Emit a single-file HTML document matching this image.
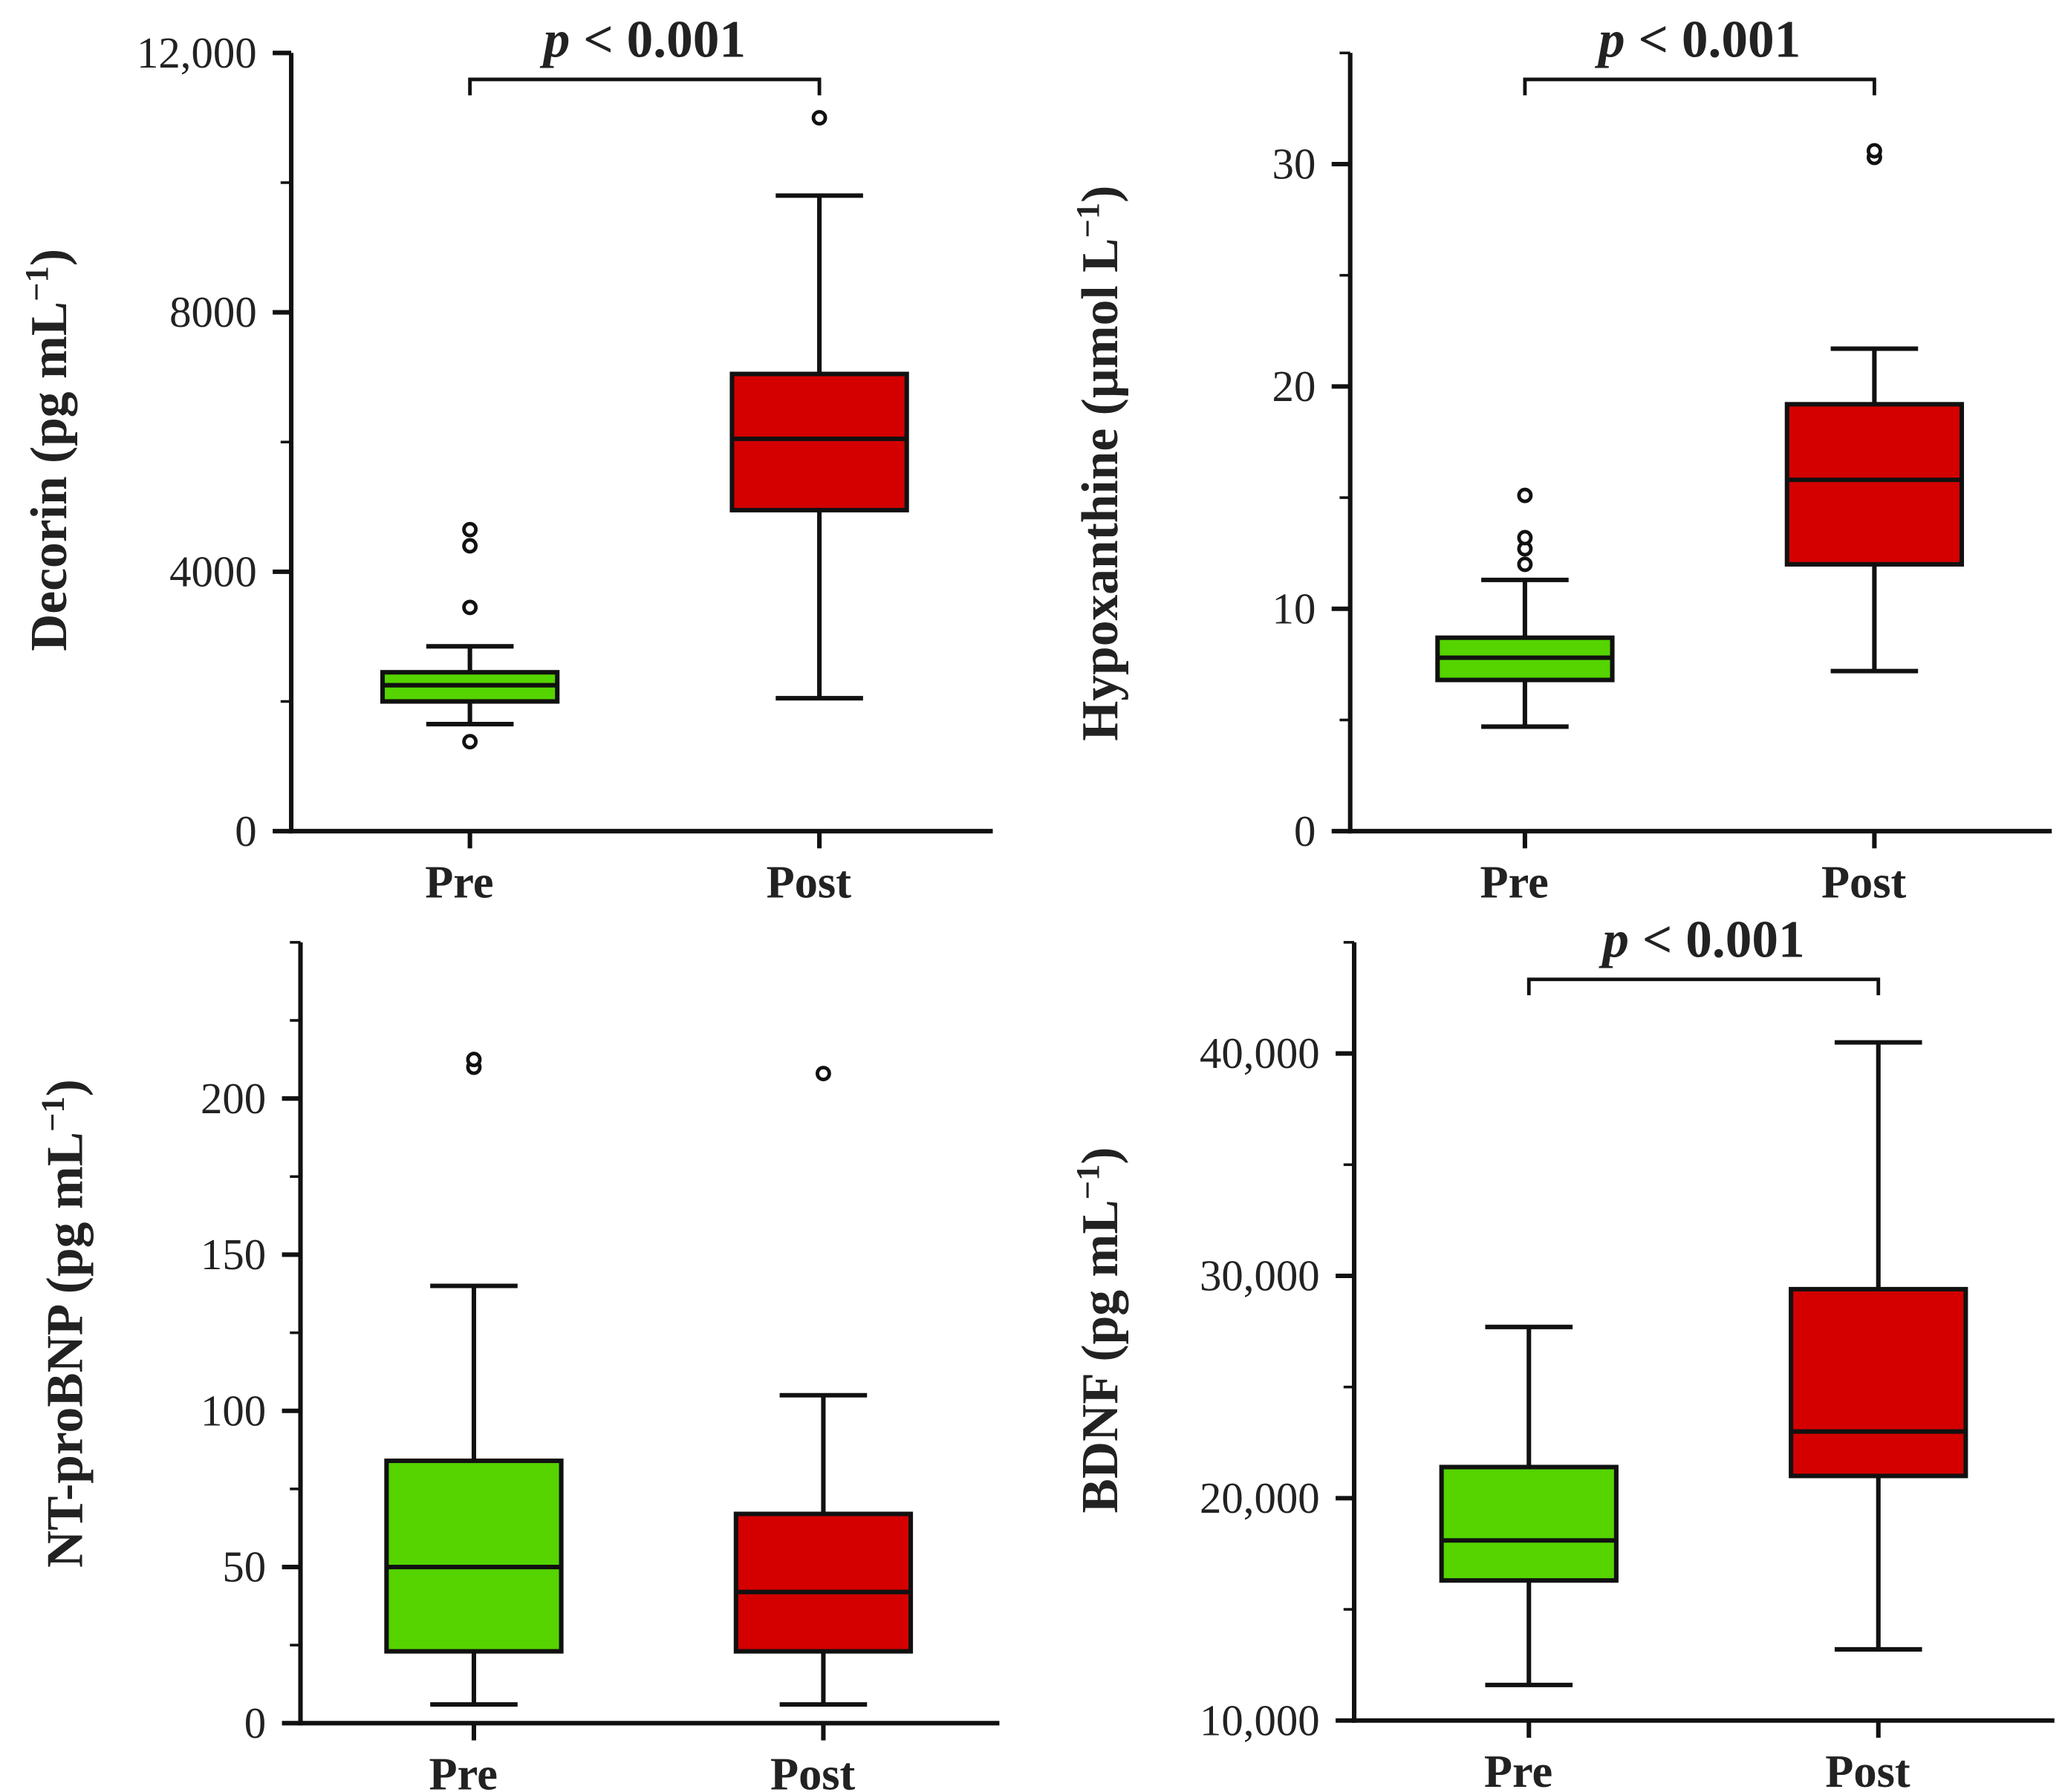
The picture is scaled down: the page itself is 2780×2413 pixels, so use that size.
<!DOCTYPE html>
<html><head><meta charset="utf-8">
<style>
html,body{margin:0;padding:0;background:#fff;}
svg{display:block;}
text{font-family:"Liberation Serif",serif;fill:#222;}
</style></head>
<body>
<svg id="chart" width="2780" height="2413" viewBox="0 0 1560 1354" preserveAspectRatio="none" xmlns="http://www.w3.org/2000/svg"></svg>
<script>
const groups = ["Pre","Post"];
// [whiskerLow, q1, median, q3, whiskerHigh]
const decorinStats = [[1650,2000,2250,2450,2850],[2050,4950,6050,7050,9800]];
const decorinOutliers = [[1380,3450,4400,4650],[11000]];
const hypoStats = [[4.7,6.8,7.8,8.7,11.3],[7.2,12.0,15.8,19.2,21.7]];
const hypoOutliers = [[12.0,12.7,13.2,15.1],[30.3,30.6]];
const bnpStats = [[6,23,50,84,140],[6,23,42,67,105]];
const bnpOutliers = [[210,212.5],[208]];
const bdnfStats = [[11600,16300,18100,21400,27700],[13200,21000,23000,29400,40500]];
const bdnfOutliers = [[],[]];
const decorinTicks = [0,4000,8000,12000];
const decorinTickLabels = ["0","4000","8000","12,000"];
const hypoTicks = [0,10,20,30];
const hypoTickLabels = ["0","10","20","30"];
const bnpTicks = [0,50,100,150,200];
const bnpTickLabels = ["0","50","100","150","200"];
const bdnfTicks = [10000,20000,30000,40000];
const bdnfTickLabels = ["10,000","20,000","30,000","40,000"];

const svg = document.getElementById('chart');
const NS = "http://www.w3.org/2000/svg";
function mk(tag, attrs, parent){
  const e = document.createElementNS(NS, tag);
  for (const k in attrs) e.setAttribute(k, attrs[k]);
  (parent||svg).appendChild(e);
  return e;
}
const colors = ["#55d400","#d40000"];

function panel(cfg){
  const g = mk('g',{});
  
  
  const y = v => cfg.y0 - (v - cfg.vmin) / (cfg.vmax - cfg.vmin) * (cfg.y0 - cfg.ytop);
  const sw = 3.4;
  const ya = mk('line',{x1:cfg.ax,y1:cfg.ytop,x2:cfg.ax,y2:cfg.y0+1.7,stroke:'#111','stroke-width':sw},g);
  
  
  const xa = mk('line',{x1:cfg.ax-1.7,y1:cfg.y0,x2:cfg.axEnd,y2:cfg.y0,stroke:'#111','stroke-width':sw},g);
  
  
  cfg.ticks.forEach((t,i)=>{
    mk('line',{x1:cfg.ax-14,y1:y(t),x2:cfg.ax,y2:y(t),stroke:'#111','stroke-width':sw},g);
    const tl = mk('text',{x:cfg.ax-26,y:y(t)+11,'text-anchor':'end','font-size':33},g);
    tl.textContent = cfg.tickLabels[i];
    
    
  });
  for (let v = cfg.vmin + cfg.minor; v <= cfg.vmax + 1e-9; v += cfg.minor){
    if (cfg.ticks.some(t=>Math.abs(t-v)<1e-6)) continue;
    mk('line',{x1:cfg.ax-8,y1:y(v),x2:cfg.ax,y2:y(v),stroke:'#111','stroke-width':2},g);
  }
  groups.forEach((name,i)=>{
    const cx = cfg.gx[i], hw = 66;
    const s = cfg.stats[i];
    mk('line',{x1:cx,y1:cfg.y0,x2:cx,y2:cfg.y0+13,stroke:'#111','stroke-width':sw},g);
    const xl = mk('text',{x:cx-8,y:cfg.y0+50,'text-anchor':'middle','font-size':35,'font-weight':'bold'},g);
    xl.textContent = name;
    
    
    const bg = mk('g',{},g);
    
    
    mk('line',{x1:cx,y1:y(s[0]),x2:cx,y2:y(s[1]),stroke:'#111','stroke-width':sw},bg);
    mk('line',{x1:cx,y1:y(s[3]),x2:cx,y2:y(s[4]),stroke:'#111','stroke-width':sw},bg);
    mk('line',{x1:cx-33,y1:y(s[0]),x2:cx+33,y2:y(s[0]),stroke:'#111','stroke-width':sw},bg);
    mk('line',{x1:cx-33,y1:y(s[4]),x2:cx+33,y2:y(s[4]),stroke:'#111','stroke-width':sw},bg);
    mk('rect',{x:cx-hw,y:y(s[3]),width:2*hw,height:y(s[1])-y(s[3]),fill:colors[i],stroke:'#111','stroke-width':sw},bg);
    mk('line',{x1:cx-hw,y1:y(s[2]),x2:cx+hw,y2:y(s[2]),stroke:'#111','stroke-width':sw},bg);
    cfg.outliers[i].forEach(o=>{
      const c = mk('circle',{cx:cx,cy:y(o),r:4.5,fill:'#fff',stroke:'#111','stroke-width':2.7},bg);
      
      
    });
  });
  const tt = mk('text',{transform:`translate(${cfg.tx},${cfg.ty}) rotate(-90)`,'text-anchor':'middle','font-size':39,'font-weight':'bold'},g);
  tt.innerHTML = cfg.title + '<tspan dy="-14" font-size="25">−1</tspan><tspan dy="14">)</tspan>';
  
  
  if (cfg.bracket){
    const by = cfg.bracket;
    const br = mk('path',{d:`M${cfg.gx[0]},${by+12} V${by} H${cfg.gx[1]} V${by+12}`,fill:'none',stroke:'#111','stroke-width':2.7},g);
    
    
    const pt = mk('text',{x:(cfg.gx[0]+cfg.gx[1])/2,y:by-17,'text-anchor':'middle','font-size':40,'font-weight':'bold'},g);
    pt.innerHTML = '<tspan font-style="italic">p</tspan> &lt; 0.001';
    
    
  }
}

panel({name:'decorin',ax:220,axEnd:750,y0:628,ytop:40,vmin:0,vmax:12000,minor:2000,ticks:decorinTicks,tickLabels:decorinTickLabels,
  gx:[355,619],stats:decorinStats,outliers:decorinOutliers,title:'Decorin (pg mL',tx:50,ty:340,bracket:60});
panel({name:'hypoxanthine',ax:1020,axEnd:1550,y0:628,ytop:40,vmin:0,vmax:35,minor:5,ticks:hypoTicks,tickLabels:hypoTickLabels,
  gx:[1152,1416],stats:hypoStats,outliers:hypoOutliers,title:'Hypoxanthine (µmol L',tx:844,ty:350,bracket:60});
panel({name:'nt-probnp',ax:227,axEnd:755,y0:1302,ytop:712,vmin:0,vmax:250,minor:25,ticks:bnpTicks,tickLabels:bnpTickLabels,
  gx:[358,622],stats:bnpStats,outliers:bnpOutliers,title:'NT-proBNP (pg mL',tx:62,ty:1000,bracket:0});
panel({name:'bdnf',ax:1023,axEnd:1552,y0:1300,ytop:712,vmin:10000,vmax:45000,minor:5000,ticks:bdnfTicks,tickLabels:bdnfTickLabels,
  gx:[1155,1419],stats:bdnfStats,outliers:bdnfOutliers,title:'BDNF (pg mL',tx:844,ty:1005,bracket:740});
</script>
</body></html>
